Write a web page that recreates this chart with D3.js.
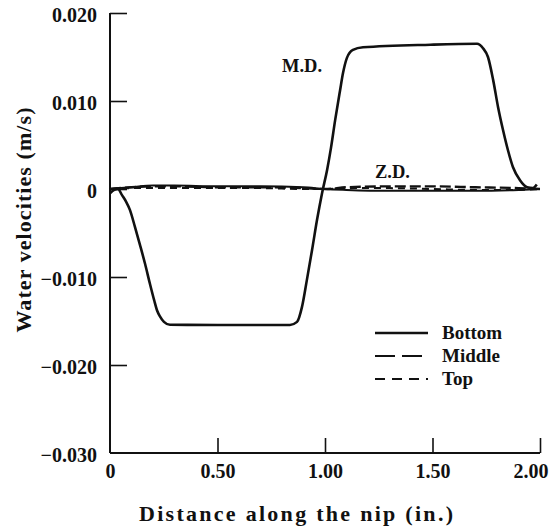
<!DOCTYPE html>
<html>
<head>
<meta charset="utf-8">
<script src="https://cdn.jsdelivr.net/npm/d3@7"></script>
<style>
  body { margin: 0; background: #fff; }
  text { font-family: "Liberation Serif", "Times New Roman", serif; font-weight: bold; fill: #111; }
</style>
</head>
<body>
<div id="chart"></div>
<script>
// data (distance in inches, velocity in m/s)
var mdBottomX = [0, 0.02, 0.037, 0.056, 0.074, 0.093, 0.116, 0.14, 0.163, 0.186, 0.205, 0.219, 0.233, 0.251, 0.279, 0.5, 0.837,
  0.87, 0.893, 0.916, 0.94, 0.963, 0.986, 1.01, 1.028, 1.047, 1.07, 1.084, 1.102, 1.13, 1.177, 1.49, 1.707,
  1.735, 1.758, 1.782, 1.805, 1.828, 1.851, 1.874, 1.907, 1.94, 1.967, 1.985];
var mdBottomY = [-0.0005, -0.0001, 0.0, -0.0007, -0.0014, -0.0024, -0.0043, -0.0064, -0.0085, -0.0108, -0.0126, -0.0138, -0.0145, -0.0151, -0.01543, -0.01545, -0.01545,
  -0.0151, -0.0134, -0.0103, -0.0069, -0.0035, -0.0005, 0.0022, 0.0047, 0.0078, 0.0112, 0.0132, 0.0149, 0.0158, 0.0161, 0.0164, 0.0165,
  0.016, 0.015, 0.0124, 0.0093, 0.0067, 0.0044, 0.0025, 0.001, 0.0002, 0.0001, 0.0005];

var zdX = [0, 0.1, 0.2, 0.3, 0.5, 0.7, 0.9, 1.0, 1.1, 1.3, 1.5, 1.7, 1.9, 2.0];
var zdBottomY = [0, 0.0002, 0.0004, 0.0004, 0.0003, 0.0003, 0.0002, 0.0, -0.0001, -0.0002, -0.0002, -0.0002, -0.0001, 0];
var zdMiddleY = [0, 0.0002, 0.0003, 0.0003, 0.0002, 0.0002, 0.0001, 0.0, 0.0002, 0.0003, 0.0003, 0.0002, 0.0001, 0];
var zdTopY = [0, 0.0001, 0.0001, 0.0001, 0.0001, 0.0001, 0.0, 0.0, 0.0001, 0.0001, 0.0, -0.0001, -0.0001, 0];

var xTicks = [0, 0.5, 1.0, 1.5, 2.0];
var xTickLabels = ["0", "0.50", "1.00", "1.50", "2.00"];
var yTicks = [0.02, 0.01, 0, -0.01, -0.02, -0.03];
var yTickLabels = ["0.020", "0.010", "0", "\u22120.010", "\u22120.020", "\u22120.030"];
var legendNames = ["Bottom", "Middle", "Top"];
var legendDash = [null, "20,7", "10,7"];
var lineDash = [null, "11,4", "7,5"];

var W = 550, H = 527;
var x = d3.scaleLinear().domain([0, 2]).range([110, 540]);
var y = d3.scaleLinear().domain([-0.03, 0.02]).range([453, 13]);

var svg = d3.select('#chart').append('svg')
  .attr('width', W)
  .attr('height', H);

// axes, ticks pointing inward
var xAxis = d3.axisBottom(x).tickValues(xTicks).tickSize(-15).tickPadding(10)
  .tickFormat(function (d, i) { return xTickLabels[i]; });
var gx = svg.append('g').attr('transform', 'translate(0,' + y(-0.03) + ')').call(xAxis);

var yAxis = d3.axisLeft(y).tickValues(yTicks).tickSize(-17).tickPadding(13)
  .tickFormat(function (d, i) { return yTickLabels[i]; });
var gy = svg.append('g').attr('transform', 'translate(' + x(0) + ',0)').call(yAxis);

[gx, gy].forEach(function (g) {
  g.select('.domain').attr('stroke', '#111').attr('stroke-width', 2);
  g.selectAll('.tick line').attr('stroke', '#111').attr('stroke-width', 1.6);
  g.selectAll('.tick text').style('font-size', '20px').attr('fill', '#111');
});
gx.select('.domain').attr('d', 'M' + x(0) + ',0H' + x(2));
gy.select('.domain').attr('d', 'M0,' + y(0.02) + 'V' + y(-0.03));
gy.selectAll('.tick').filter(function (d) { return d === -0.03; }).select('line').remove();
gx.selectAll('.tick').filter(function (d) { return d === 0; }).select('line').remove();
gx.selectAll('.tick text').attr('y', 25).attr('dy', 0);
// last label sits flush with the end of the axis
gx.selectAll('.tick').filter(function (d) { return d === 2; }).select('text')
  .attr('text-anchor', 'end').attr('x', 8);
gy.selectAll('.tick text').attr('dy', '0.42em');

// curves
var line = d3.line()
  .x(function (d) { return x(d[0]); })
  .y(function (d) { return y(d[1]); })
  .curve(d3.curveMonotoneX);

function pairs(xs, ys) { return xs.map(function (v, i) { return [v, ys[i]]; }); }

svg.append('path').datum(pairs(zdX, zdBottomY))
  .attr('d', line).attr('fill', 'none').attr('stroke', '#111').attr('stroke-width', 2);
svg.append('path').datum(pairs(zdX, zdMiddleY))
  .attr('d', line).attr('fill', 'none').attr('stroke', '#111').attr('stroke-width', 2.4)
  .attr('stroke-dasharray', lineDash[1]);
svg.append('path').datum(pairs(zdX, zdTopY))
  .attr('d', line).attr('fill', 'none').attr('stroke', '#111').attr('stroke-width', 2)
  .attr('stroke-dasharray', lineDash[2]);
svg.append('path').datum(pairs(mdBottomX, mdBottomY))
  .attr('d', line).attr('fill', 'none').attr('stroke', '#111').attr('stroke-width', 2.6);

// annotations
svg.append('text').attr('x', 282).attr('y', 72).style('font-size', '18.5px').text('M.D.');
svg.append('text').attr('x', 375).attr('y', 178).style('font-size', '18.5px').text('Z.D.');

// axis titles
svg.append('text').attr('x', 296).attr('y', 521).attr('text-anchor', 'middle')
  .attr('textLength', 314).attr('lengthAdjust', 'spacing')
  .style('font-size', '22px').text('Distance along the nip (in.)');
svg.append('text').attr('transform', 'translate(31,220) rotate(-90)').attr('text-anchor', 'middle')
  .attr('textLength', 225).attr('lengthAdjust', 'spacing')
  .style('font-size', '22px').text('Water velocities (m/s)');

// legend
var leg = svg.append('g').selectAll('g').data(legendNames).enter().append('g')
  .attr('transform', function (d, i) { return 'translate(375,' + (333 + i * 23) + ')'; });
leg.append('line').attr('x1', 0).attr('x2', 53).attr('y1', 0).attr('y2', 0)
  .attr('stroke', '#111').attr('stroke-width', function (d, i) { return i === 0 ? 2.6 : 2; })
  .attr('stroke-dasharray', function (d, i) { return legendDash[i]; });
leg.append('text').attr('x', 67).attr('y', 6).style('font-size', '19px').text(function (d) { return d; });
</script>
</body>
</html>
